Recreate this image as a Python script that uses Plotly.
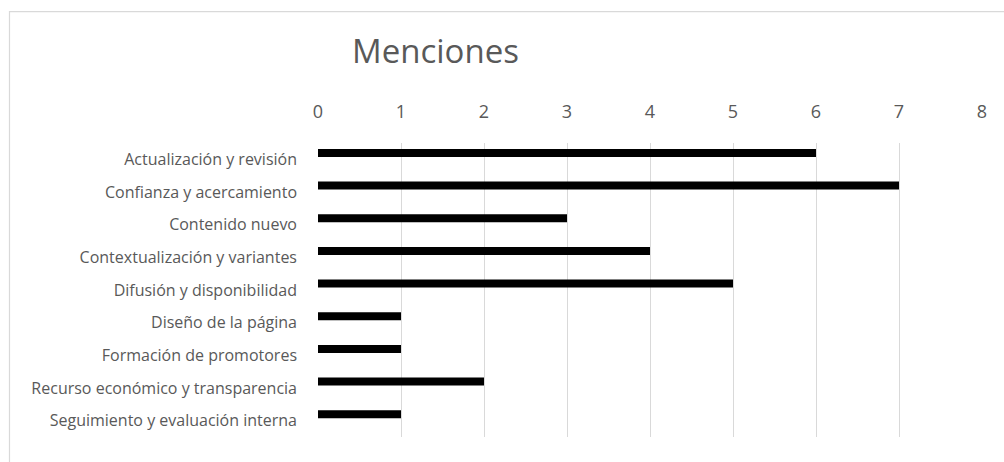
import plotly.graph_objects as go

categories = [
    "Actualización y revisión",
    "Confianza y acercamiento",
    "Contenido nuevo",
    "Contextualización y variantes",
    "Difusión y disponibilidad",
    "Diseño de la página",
    "Formación de promotores",
    "Recurso económico y transparencia",
    "Seguimiento y evaluación interna",
]
menciones = [6, 7, 3, 4, 5, 1, 1, 2, 1]
x_ticks = [0, 1, 2, 3, 4, 5, 6, 7, 8]
title_text = "Menciones"

W, H = 1004, 462
L, R, T, B = 318, 982, 143, 437.5

FONT = "Open Sans"
GRAY = "#595959"

fig = go.Figure()
fig.add_trace(go.Bar(
    x=menciones, y=categories, orientation="h",
    marker=dict(color="#000000", line=dict(width=0)),
    width=0.245, offset=-0.32,
    hoverinfo="x+y",
))

def px_x(p):
    return (p - L) / (R - L)

def px_y(p):
    return (B - p) / (B - T)

fig.update_layout(
    width=W, height=H,
    margin=dict(l=L, r=W - R, t=T, b=H - B, autoexpand=False),
    paper_bgcolor="white", plot_bgcolor="white",
    showlegend=False,
    font=dict(family=FONT, color=GRAY),
    xaxis=dict(
        side="top", range=[0, 8], tickvals=x_ticks, ticktext=[str(v) for v in x_ticks],
        showgrid=True, gridcolor="#d9d9d9", gridwidth=1,
        zeroline=False, showline=False, ticks="",
        tickfont=dict(size=18, color=GRAY, family=FONT), ticklabelstandoff=20,
        fixedrange=True,
    ),
    yaxis=dict(
        autorange="reversed", showgrid=False, zeroline=False, showline=False,
        ticks="", tickfont=dict(size=16, color=GRAY, family=FONT),
        ticklabelstandoff=20, fixedrange=True,
    ),
    shapes=[
        dict(type="rect", xref="paper", yref="paper",
             x0=px_x(9.5), x1=px_x(1010), y0=px_y(470), y1=px_y(11.5),
             line=dict(color="#d9d9d9", width=1.2), fillcolor="rgba(0,0,0,0)", layer="below"),
    ],
    annotations=[
        dict(text=title_text, xref="paper", yref="paper",
             x=px_x(435), y=px_y(50), xanchor="center", yanchor="middle",
             showarrow=False, font=dict(size=33, color=GRAY, family=FONT)),
    ],
)

fig.write_html("out.html")
